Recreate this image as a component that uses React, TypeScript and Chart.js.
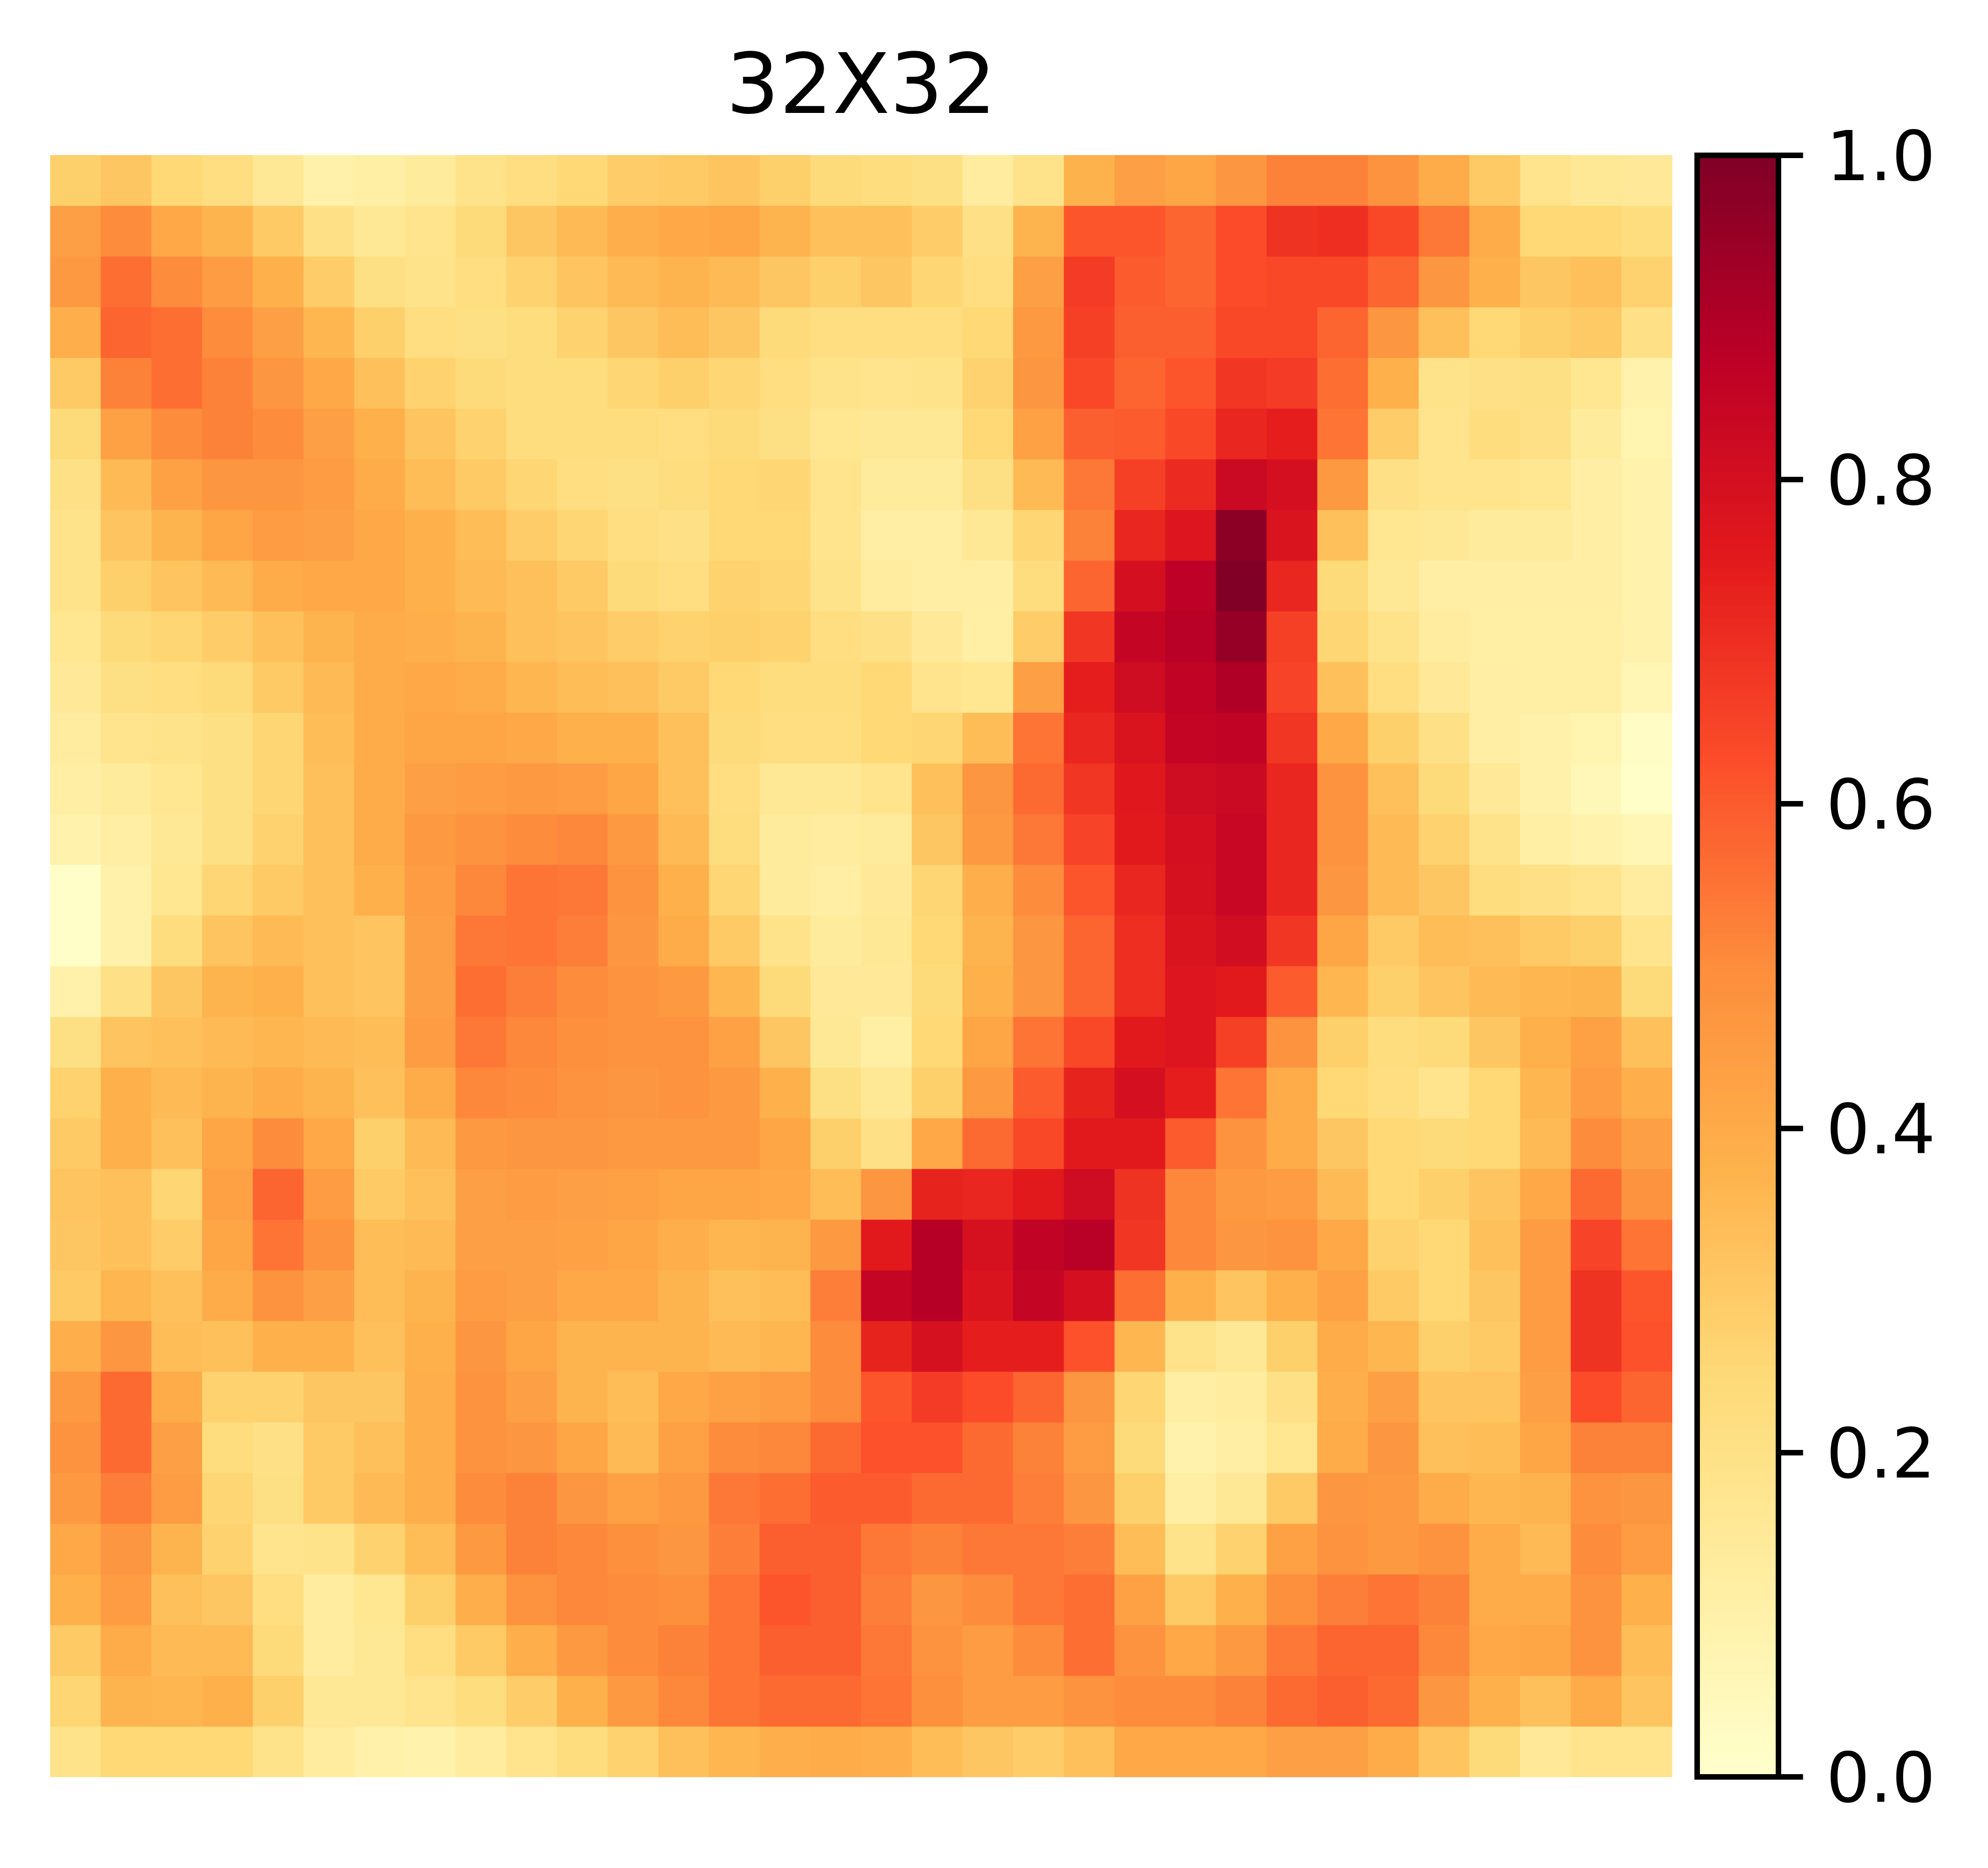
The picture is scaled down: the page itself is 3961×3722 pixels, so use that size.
import React, { useEffect, useRef } from "react";
import { Chart, registerables } from "chart.js";

Chart.register(...registerables);

const titleText = "32X32";
const colorbarTicks = [0, 0.2, 0.4, 0.6, 0.8, 1];

// YlOrRd anchors of the colour scale
const anchors: number[][] = [
  [255, 255, 204], [255, 237, 160], [254, 217, 118], [254, 178, 76], [253, 141, 60],
  [252, 78, 42], [227, 26, 28], [189, 0, 38], [128, 0, 38],
];

const row00 = [.28,.31,.25,.22,.16,.10,.11,.14,.19,.22,.25,.29,.30,.32,.28,.24,.23,.21,.13,.19,.375,.44,.42,.47,.52,.52,.48,.40,.30,.18,.16,.15];
const row01 = [.44,.50,.41,.37,.30,.20,.16,.18,.24,.31,.35,.39,.41,.42,.37,.33,.33,.29,.20,.37,.61,.61,.58,.63,.69,.70,.64,.54,.40,.25,.25,.23];
const row02 = [.46,.56,.50,.45,.38,.29,.21,.19,.22,.27,.32,.35,.37,.35,.31,.28,.31,.26,.22,.44,.67,.60,.58,.63,.64,.64,.58,.47,.38,.31,.33,.27];
const row03 = [.39,.58,.56,.50,.44,.36,.28,.22,.21,.23,.27,.31,.34,.31,.24,.22,.22,.22,.25,.46,.66,.59,.59,.64,.64,.58,.47,.33,.25,.28,.30,.20];
const row04 = [.30,.52,.56,.52,.47,.41,.33,.27,.24,.23,.23,.26,.28,.26,.22,.19,.18,.19,.27,.47,.64,.58,.61,.68,.67,.56,.38,.19,.20,.21,.17,.09];
const row05 = [.24,.43,.50,.52,.50,.44,.38,.32,.27,.23,.23,.23,.22,.24,.21,.17,.16,.16,.25,.43,.59,.60,.64,.72,.74,.55,.29,.18,.23,.20,.14,.08];
const row06 = [.20,.35,.43,.47,.47,.45,.40,.34,.30,.26,.22,.21,.23,.25,.26,.18,.14,.14,.21,.35,.54,.66,.71,.83,.80,.46,.20,.18,.18,.17,.12,.09];
const row07 = [.19,.32,.37,.42,.45,.44,.41,.38,.34,.29,.26,.22,.20,.25,.25,.18,.12,.12,.16,.26,.52,.72,.77,.97,.78,.33,.17,.16,.14,.14,.12,.09];
const row08 = [.19,.28,.32,.35,.40,.41,.41,.38,.35,.33,.30,.24,.22,.27,.26,.19,.13,.12,.12,.23,.58,.80,.87,1.0,.72,.24,.16,.12,.12,.12,.12,.09];
const row09 = [.17,.24,.26,.29,.33,.37,.40,.39,.37,.33,.32,.29,.27,.28,.27,.22,.20,.15,.11,.29,.68,.85,.88,.95,.66,.26,.19,.13,.11,.11,.11,.09];
const row10 = [.15,.21,.22,.24,.30,.35,.40,.41,.40,.36,.34,.33,.30,.25,.23,.23,.25,.18,.17,.44,.74,.82,.86,.90,.65,.33,.22,.15,.12,.11,.11,.07];
const row11 = [.13,.18,.19,.21,.26,.34,.40,.42,.42,.41,.38,.38,.33,.24,.22,.22,.25,.26,.34,.55,.72,.78,.85,.86,.68,.41,.28,.20,.12,.10,.08,.02];
const row12 = [.12,.14,.17,.21,.26,.33,.40,.44,.45,.46,.45,.42,.33,.22,.16,.16,.18,.33,.47,.57,.68,.76,.82,.83,.72,.48,.33,.24,.15,.10,.06,.01];
const row13 = [.09,.12,.16,.21,.27,.33,.40,.46,.48,.50,.51,.46,.35,.23,.14,.13,.14,.31,.46,.54,.65,.75,.80,.84,.72,.48,.35,.27,.19,.11,.09,.07];
const row14 = [.01,.10,.17,.26,.30,.33,.38,.45,.51,.55,.54,.48,.38,.26,.14,.12,.15,.26,.39,.50,.61,.72,.79,.84,.72,.47,.35,.31,.23,.20,.18,.13];
const row15 = [.01,.10,.23,.32,.35,.33,.32,.44,.54,.55,.53,.47,.40,.30,.19,.14,.16,.25,.37,.47,.58,.70,.78,.81,.68,.42,.30,.34,.33,.30,.28,.18];
const row16 = [.10,.20,.31,.37,.38,.33,.32,.44,.56,.53,.50,.48,.46,.36,.24,.15,.15,.24,.38,.47,.58,.70,.77,.75,.60,.36,.28,.32,.35,.36,.37,.24];
const row17 = [.21,.32,.33,.35,.36,.35,.34,.45,.54,.51,.49,.48,.48,.43,.31,.16,.11,.25,.42,.55,.64,.75,.77,.66,.48,.28,.23,.24,.31,.38,.43,.33];
const row18 = [.27,.38,.35,.37,.40,.37,.33,.40,.51,.50,.48,.47,.48,.46,.38,.21,.16,.28,.46,.60,.73,.80,.74,.55,.40,.25,.22,.18,.25,.36,.45,.39];
const row19 = [.30,.38,.33,.42,.50,.41,.28,.35,.46,.47,.47,.46,.46,.46,.42,.28,.20,.41,.57,.64,.75,.75,.60,.48,.40,.31,.25,.24,.25,.35,.50,.44];
const row20 = [.32,.33,.26,.43,.58,.45,.30,.33,.44,.45,.44,.43,.42,.42,.41,.34,.47,.73,.72,.75,.82,.69,.51,.46,.45,.35,.25,.28,.32,.41,.57,.48];
const row21 = [.31,.33,.29,.42,.55,.48,.34,.35,.44,.44,.43,.42,.39,.36,.37,.46,.75,.89,.79,.86,.88,.68,.51,.47,.48,.41,.27,.25,.33,.45,.65,.55];
const row22 = [.30,.36,.33,.40,.48,.44,.34,.37,.45,.44,.41,.41,.37,.33,.34,.53,.85,.89,.78,.85,.80,.56,.38,.32,.38,.43,.30,.25,.31,.45,.69,.61];
const row23 = [.39,.47,.34,.33,.38,.38,.33,.38,.47,.42,.37,.37,.37,.35,.36,.50,.73,.79,.74,.74,.62,.36,.19,.16,.28,.40,.36,.28,.30,.45,.69,.62];
const row24 = [.46,.57,.40,.27,.27,.31,.31,.39,.48,.44,.37,.34,.41,.43,.45,.50,.61,.67,.63,.58,.47,.26,.12,.13,.20,.39,.44,.32,.32,.44,.63,.58];
const row25 = [.48,.57,.44,.23,.20,.30,.33,.39,.48,.47,.42,.35,.43,.50,.51,.57,.62,.62,.57,.52,.45,.24,.09,.12,.17,.40,.47,.33,.34,.42,.52,.52];
const row26 = [.46,.53,.45,.26,.21,.30,.35,.39,.50,.52,.47,.43,.46,.54,.56,.60,.60,.57,.57,.53,.47,.28,.12,.16,.30,.47,.46,.40,.36,.37,.48,.47];
const row27 = [.41,.47,.37,.27,.18,.19,.27,.34,.46,.52,.51,.49,.47,.53,.59,.59,.54,.52,.54,.54,.53,.34,.19,.27,.43,.48,.46,.48,.40,.35,.50,.45];
const row28 = [.38,.45,.33,.31,.22,.13,.17,.28,.39,.48,.51,.50,.49,.55,.61,.59,.53,.47,.50,.54,.56,.43,.30,.38,.49,.53,.55,.52,.40,.40,.48,.38];
const row29 = [.30,.40,.35,.35,.24,.13,.16,.22,.30,.39,.46,.50,.52,.55,.59,.59,.54,.48,.45,.50,.56,.48,.41,.46,.54,.58,.58,.51,.41,.42,.48,.34];
const row30 = [.26,.37,.36,.38,.28,.16,.16,.18,.23,.29,.38,.46,.51,.55,.57,.57,.55,.49,.45,.45,.48,.50,.50,.52,.57,.59,.57,.47,.38,.33,.40,.32];
const row31 = [.19,.25,.25,.25,.19,.13,.10,.09,.13,.18,.23,.27,.33,.36,.39,.40,.39,.34,.31,.29,.33,.41,.41,.41,.44,.44,.40,.32,.24,.15,.18,.18];

const heatRows = [
  row00, row01, row02, row03, row04, row05, row06, row07,
  row08, row09, row10, row11, row12, row13, row14, row15,
  row16, row17, row18, row19, row20, row21, row22, row23,
  row24, row25, row26, row27, row28, row29, row30, row31,
];

const LEVELS = 256;

function cmap(v: number): string {
  const idx = Math.min(LEVELS - 1, Math.max(0, Math.floor(v * LEVELS)));
  const t = (idx / (LEVELS - 1)) * (anchors.length - 1);
  const i = Math.min(anchors.length - 2, Math.floor(t));
  const f = t - i;
  const c = anchors[i].map((a, k) => Math.round(a + (anchors[i + 1][k] - a) * f));
  return `rgb(${c[0]},${c[1]},${c[2]})`;
}

const FONT = "'DejaVu Sans'";
const W = 3961;
const H = 3722;

const frame = {
  id: "frame",
  afterDatasetsDraw(chart: any) {
    const { ctx, chartArea: a } = chart;
    ctx.save();
    ctx.strokeStyle = "#000";
    ctx.lineWidth = 11;
    ctx.lineJoin = "miter";
    ctx.strokeRect(a.left, a.top, a.right - a.left, a.bottom - a.top);
    ctx.restore();
  },
};

export default function App() {
  const heatRef = useRef<HTMLCanvasElement>(null);
  const barRef = useRef<HTMLCanvasElement>(null);

  useEffect(() => {
    const columns = heatRows[0].map((_, i) => String(i));
    const heat = new Chart(heatRef.current!, {
      type: "bar",
      data: {
        labels: columns,
        datasets: heatRows.map((row) => ({
          data: row.map(() => 1),
          backgroundColor: row.map(cmap),
          borderWidth: 0,
          barPercentage: 1,
          categoryPercentage: 1,
        })),
      },
      options: {
        animation: false,
        responsive: false,
        events: [],
        layout: { padding: { left: 100, right: W - 3332, top: 98, bottom: H - 3541 } },
        plugins: {
          legend: { display: false },
          tooltip: { enabled: false },
          title: {
            display: true,
            text: titleText,
            color: "#000",
            font: { family: FONT, size: 166.67, weight: "normal", lineHeight: 1 },
            padding: { top: 0, bottom: 309 - 98 - 166.67 },
          },
        },
        scales: {
          x: { display: false, stacked: true },
          y: { display: false, stacked: true, reverse: true, min: 0, max: heatRows.length },
        },
      },
    } as any);

    const levels = Array.from({ length: LEVELS }, (_, i) => i);
    const bar = new Chart(barRef.current!, {
      type: "bar",
      data: {
        labels: [""],
        datasets: levels.map((i) => ({
          data: [(i + 1) / LEVELS],
          backgroundColor: cmap((i + 0.5) / LEVELS),
          borderWidth: 0,
          barPercentage: 1,
          categoryPercentage: 1,
        })),
      },
      options: {
        animation: false,
        responsive: false,
        events: [],
        layout: { padding: { left: 3381.5, right: 0, top: 309.5, bottom: H - 3540.5 } },
        plugins: { legend: { display: false }, tooltip: { enabled: false }, title: { display: false } },
        scales: {
          x: { display: false, stacked: true },
          y: {
            position: "right",
            min: 0,
            max: 1,
            afterFit(s: any) { s.width = W - 3543.5; },
            afterBuildTicks(s: any) { s.ticks = colorbarTicks.map((value) => ({ value })); },
            border: { display: false },
            grid: { drawOnChartArea: false, drawTicks: true, tickLength: 49, color: "#000", lineWidth: 11 },
            ticks: {
              color: "#000",
              padding: 46,
              labelOffset: 14,
              autoSkip: false,
              maxRotation: 0,
              font: { family: FONT, size: 137, weight: "normal", lineHeight: 1 },
              callback: (v: any) => Number(v).toFixed(1),
            },
          },
        },
      },
      plugins: [frame],
    } as any);

    return () => { heat.destroy(); bar.destroy(); };
  }, []);

  const canvasStyle: React.CSSProperties = { position: "absolute", left: 0, top: 0, display: "block" };
  return (
    <div style={{ position: "absolute", left: 0, top: 0, width: W, height: H, background: "#fff" }}>
      <canvas ref={heatRef} width={W} height={H} style={canvasStyle} />
      <canvas ref={barRef} width={W} height={H} style={canvasStyle} />
    </div>
  );
}
